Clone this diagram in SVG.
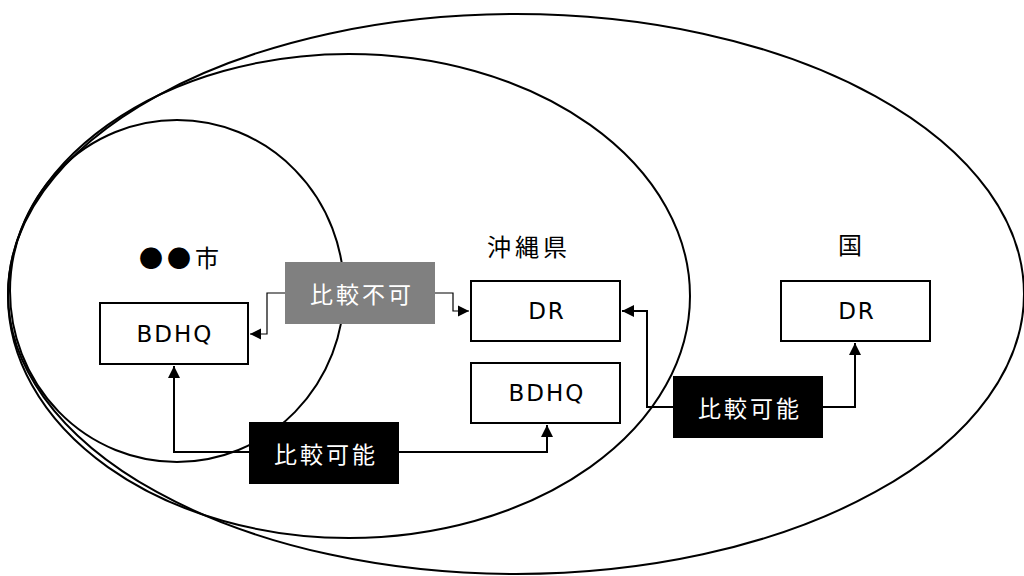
<svg xmlns="http://www.w3.org/2000/svg" width="1024" height="576" viewBox="0 0 1024 576">
<defs>
<style>
.reg{fill:none;stroke:#000;stroke-width:2}
.box{fill:#fff;stroke:#000;stroke-width:2}
.bt{font-family:"DejaVu Sans","Noto Sans CJK JP",sans-serif;font-size:23px;letter-spacing:2px;fill:#000;text-anchor:middle;dominant-baseline:central}
.rt{font-family:"Noto Sans CJK JP",sans-serif;font-size:24px;letter-spacing:4px;fill:#000;text-anchor:middle;dominant-baseline:central}
.lt{font-family:"Noto Sans CJK JP",sans-serif;font-size:23px;letter-spacing:3px;fill:#fff;text-anchor:middle;dominant-baseline:central}
.con{fill:none;stroke:#000;stroke-width:2}
.con1{fill:none;stroke:#000;stroke-width:1.2}
</style>
<marker id="ah" viewBox="0 0 10 10" refX="10" refY="5" markerWidth="11" markerHeight="12" markerUnits="userSpaceOnUse" orient="auto">
<path d="M0,0 L10,5 L0,10 z" fill="#000"/>
</marker>
<marker id="ah2" viewBox="0 0 10 10" refX="10" refY="5" markerWidth="12" markerHeight="12" markerUnits="userSpaceOnUse" orient="auto">
<path d="M0,0 L10,5 L0,10 z" fill="#000"/>
</marker>
</defs>
<rect width="1024" height="576" fill="#fff"/>
<g id="regions">
<ellipse id="kuni" class="reg" cx="516" cy="294" rx="508" ry="280"/>
<ellipse id="okinawa" class="reg" cx="349" cy="296" rx="341" ry="242"/>
<ellipse id="city" class="reg" cx="177" cy="291" rx="167" ry="171"/>
</g>
<g id="titles">
<text class="rt" x="181" y="256">●●市</text>
<text class="rt" x="529" y="245">沖縄県</text>
<text class="rt" x="852" y="243">国</text>
</g>
<g id="connectors">
<polyline class="con1" points="285,293 267,293 267,334 250,334" marker-end="url(#ah)"/>
<polyline class="con1" points="435,293 453,293 453,311 469,311" marker-end="url(#ah)"/>
<polyline class="con" points="249,452 174,452 174,366" marker-end="url(#ah2)"/>
<polyline class="con" points="399,452 547,452 547,425" marker-end="url(#ah2)"/>
<polyline class="con" points="673,407 647,407 647,311 622,311" marker-end="url(#ah2)"/>
<polyline class="con" points="823,407 855,407 855,343" marker-end="url(#ah2)"/>
</g>
<g id="city-bdhq">
<rect class="box" x="100" y="303" width="148" height="61"/>
<text class="bt" x="175" y="334">BDHQ</text>
</g>
<g id="okinawa-dr">
<rect class="box" x="471" y="281" width="149" height="60"/>
<text class="bt" x="547" y="311">DR</text>
</g>
<g id="okinawa-bdhq">
<rect class="box" x="471" y="363" width="149" height="60"/>
<text class="bt" x="547" y="393">BDHQ</text>
</g>
<g id="kuni-dr">
<rect class="box" x="781" y="281" width="149" height="60"/>
<text class="bt" x="857" y="311">DR</text>
</g>
<g id="label-fuka">
<rect x="285" y="262" width="150" height="62" fill="#808080"/>
<text class="lt" x="362" y="293">比較不可</text>
</g>
<g id="label-kanou-1">
<rect x="249" y="422" width="150" height="62" fill="#000"/>
<text class="lt" x="326" y="453">比較可能</text>
</g>
<g id="label-kanou-2">
<rect x="673" y="376" width="150" height="62" fill="#000"/>
<text class="lt" x="750" y="407">比較可能</text>
</g>
</svg>
